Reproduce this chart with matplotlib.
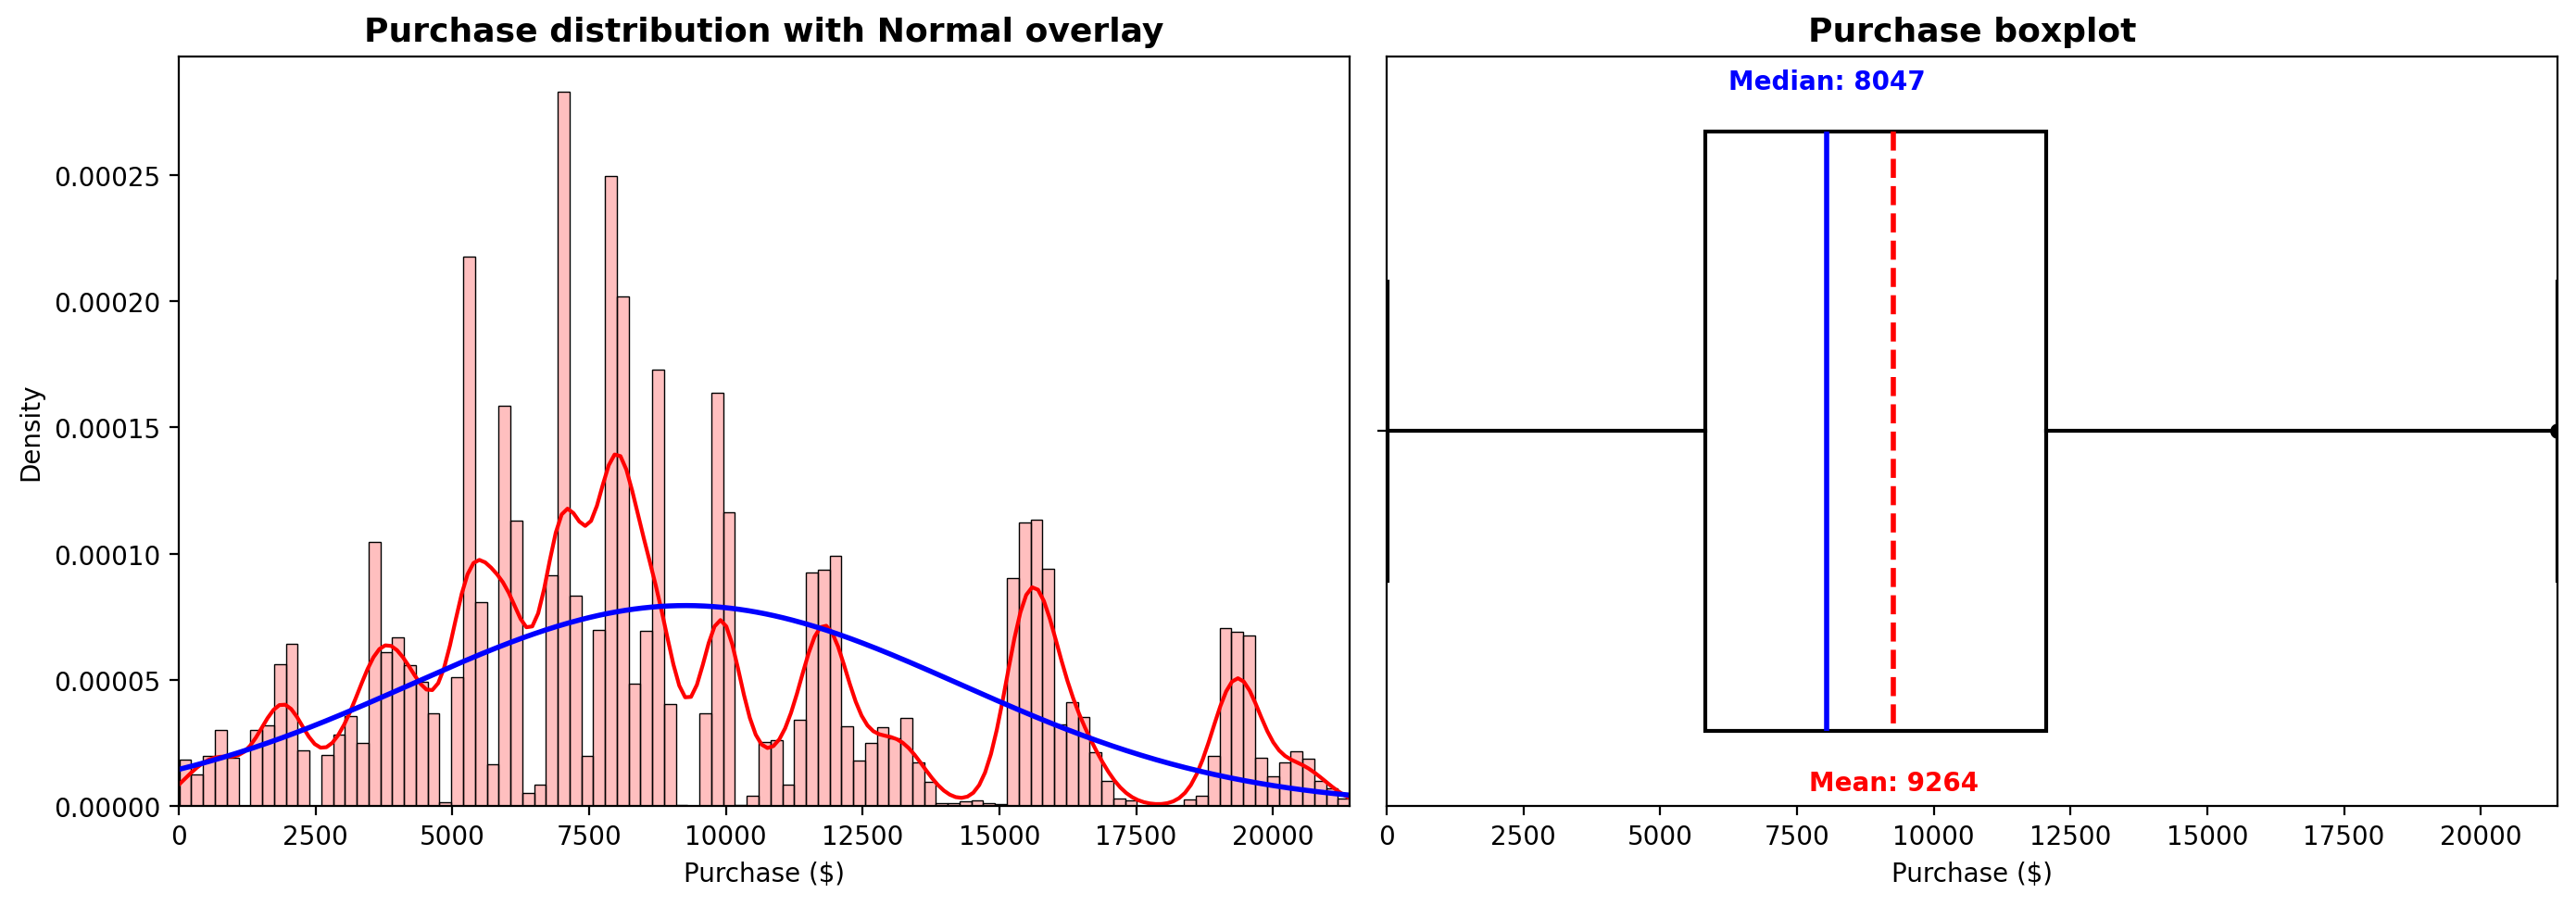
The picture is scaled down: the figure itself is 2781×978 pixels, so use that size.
import numpy as np
import matplotlib
matplotlib.use("Agg")
import matplotlib.pyplot as plt
from matplotlib.transforms import blended_transform_factory

# ---------------- data ----------------
bin_start = 12.0
bin_width = 216.05
density = [
    1.84e-5, 1.26e-5, 1.99e-5, 3.02e-5, 1.92e-5, 0.0, 3.02e-5, 3.19e-5, 5.63e-5, 6.44e-5,
    2.21e-5, 0.0, 2.03e-5, 2.81e-5, 3.58e-5, 2.50e-5, 1.045e-4, 6.08e-5, 6.68e-5, 5.59e-5,
    4.93e-5, 3.68e-5, 1.4e-6, 5.11e-5, 2.177e-4, 8.09e-5, 1.66e-5, 1.585e-4, 1.13e-4, 5.2e-6,
    8.5e-6, 9.15e-5, 2.829e-4, 8.32e-5, 1.99e-5, 6.99e-5, 2.498e-4, 2.02e-4, 4.86e-5, 6.95e-5,
    1.728e-4, 4.04e-5, 4e-7, 0.0, 3.68e-5, 1.637e-4, 1.163e-4, 4e-7, 4.1e-6, 2.55e-5,
    2.59e-5, 8.5e-6, 3.42e-5, 9.27e-5, 9.35e-5, 9.93e-5, 3.17e-5, 1.8e-5, 2.5e-5, 3.13e-5,
    2.69e-5, 3.5e-5, 1.74e-5, 9.7e-6, 1.2e-6, 1.2e-6, 1.7e-6, 2.1e-6, 1.2e-6, 8e-7,
    9.02e-5, 1.124e-4, 1.134e-4, 9.39e-5, 3.23e-5, 4.12e-5, 3.54e-5, 2.13e-5, 1.01e-5, 2.9e-6,
    2.3e-6, 0.0, 0.0, 0.0, 0.0, 2.5e-6, 4.1e-6, 1.99e-5, 7.06e-5, 6.91e-5,
    6.75e-5, 1.92e-5, 1.18e-5, 1.74e-5, 2.17e-5, 1.88e-5, 1.01e-5, 6.8e-6, 2.9e-6,
]
kde_bandwidth = 350.0

purchase_mean = 9264
purchase_std = 5023
purchase_median = 8047
purchase_q1 = 5823
purchase_q3 = 12054
purchase_min = 12
purchase_max = 21400

x_ticks = [0, 2500, 5000, 7500, 10000, 12500, 15000, 17500, 20000]

# ---------------- figure ----------------
fig, (ax1, ax2) = plt.subplots(1, 2, figsize=(13.905, 4.895), dpi=200)
fig.subplots_adjust(left=0.0694, right=0.9928, bottom=0.1103, top=0.9367, wspace=0.0316)

# ---- left: histogram + KDE + normal ----
dens = np.asarray(density)
edges = bin_start + bin_width * np.arange(len(dens) + 1)
ax1.bar(edges[:-1], dens, width=bin_width, align="edge",
        facecolor=(1, 0, 0, 0.25), edgecolor="black", linewidth=0.5)

centers = edges[:-1] + bin_width / 2
weights = dens * bin_width
grid = np.linspace(edges[0], edges[-1], 200)
kde = (weights[None, :] * np.exp(-0.5 * ((grid[:, None] - centers[None, :]) / kde_bandwidth) ** 2)
       / (kde_bandwidth * np.sqrt(2 * np.pi))).sum(axis=1)
ax1.plot(grid, kde, color="red", linewidth=1.5)

xs = np.linspace(0, purchase_max, 400)
pdf = np.exp(-0.5 * ((xs - purchase_mean) / purchase_std) ** 2) / (purchase_std * np.sqrt(2 * np.pi))
ax1.plot(xs, pdf, color="blue", linewidth=2)

ax1.set_xlim(0, purchase_max)
ax1.set_xticks(x_ticks)
ax1.set_title("Purchase distribution with Normal overlay", fontsize=13, fontweight="bold")
ax1.set_xlabel("Purchase ($)")
ax1.set_ylabel("Density")

# ---- right: boxplot ----
stats = [dict(med=purchase_median, q1=purchase_q1, q3=purchase_q3,
              whislo=purchase_min, whishi=purchase_max - 1, fliers=[purchase_max],
              mean=purchase_mean)]
ax2.bxp(stats, positions=[0], widths=0.8, vert=False, patch_artist=True,
        showmeans=True, meanline=True, capwidths=0.4,
        boxprops=dict(facecolor="white", edgecolor="black", linewidth=1.5),
        whiskerprops=dict(color="black", linewidth=1.5),
        capprops=dict(color="black", linewidth=1.5),
        medianprops=dict(color="blue", linewidth=2),
        meanprops=dict(color="red", linestyle="--", linewidth=2),
        flierprops=dict(marker="o", markerfacecolor="black", markeredgecolor="black", markersize=5))
ax2.set_xlim(0, purchase_max)
ax2.set_ylim(0.5, -0.5)
ax2.set_xticks(x_ticks)
ax2.set_yticks([0])
ax2.set_yticklabels([""])
ax2.set_title("Purchase boxplot", fontsize=13, fontweight="bold")
ax2.set_xlabel("Purchase ($)")

tr = blended_transform_factory(ax2.transData, ax2.transAxes)
ax2.text(purchase_median, 0.967, f"Median: {purchase_median}", transform=tr,
         ha="center", va="center", color="blue", fontweight="bold", fontsize=10)
ax2.text(purchase_mean, 0.031, f"Mean: {purchase_mean}", transform=tr,
         ha="center", va="center", color="red", fontweight="bold", fontsize=10)

fig.savefig("out.png", dpi=200)
